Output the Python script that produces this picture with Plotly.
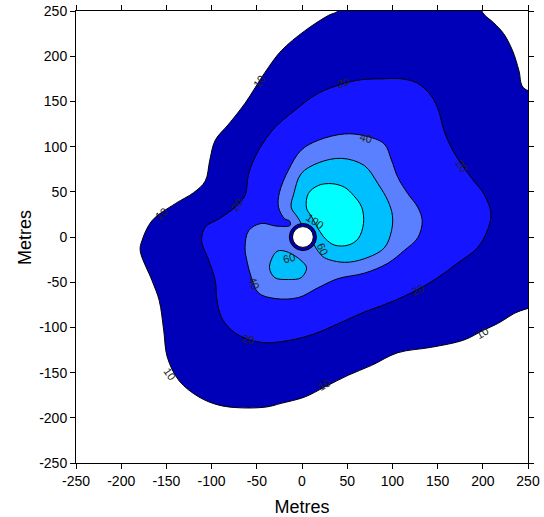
import plotly.graph_objects as go

# ---- contour outlines (metres) ----
c10_x = [40, 29, 3, -23, -41, -63, -81, -96, -102, -107, -120, -140, -166, -177, -179, -166, -158, -153,
         -149, -136, -114, -92, -67, -39, -23, 3, 25, 51, 77, 106, 143, 179, 201, 216, 234, 280, 280,
         245, 240, 233, 223, 212, 200, 190, 60]
c10_y = [250, 245, 228, 206, 182, 148, 125, 107, 85, 62, 49, 37, 18, -4, -15, -48, -70, -103,
         -133, -159, -177, -186, -189, -188, -184, -177, -166, -153, -142, -128, -122, -114, -103, -96, -85, -60, 150,
         165, 184, 206, 225, 237, 248, 275, 275]

c20_x = [88, 110, 128, 143, 151, 157, 165, 176, 190, 201, 209, 205, 194, 172, 150, 132, 110, 88, 69, 40,
         14, -12, -41, -63, -78, -89, -94, -96, -103, -111, -107, -92, -74, -63, -59, -48, -30, -8, 18, 47, 66]
c20_y = [175, 175, 170, 156, 140, 118, 99, 81, 62, 48, 26, 7, -12, -29, -45, -56, -67, -76, -83, -96,
         -107, -114, -117, -112, -103, -89, -70, -48, -26, -4, 11, 20, 33, 46, 70, 96, 121, 140, 159, 170, 174]

c40_x = [69, 91, 99, 106, 117, 128, 133, 128, 113, 95, 69, 40, 18, -4, -30, -48, -56, -61, -63, -59,
         -45, -28, -13, -14, -19, -26, -25, -15, -1, 18, 47]
c40_y = [112, 103, 85, 66, 48, 33, 18, -1, -15, -29, -40, -46, -56, -67, -68, -62, -45, -26, -12, 7,
         15, 12, 13, 18, 20, 33, 49, 74, 96, 107, 114]

c60a_x = [44, 18, -1, -9, -12, -5, 1, 13, 18, 25, 47, 69, 91, 99, 100, 95, 84, 69]
c60a_y = [87, 82, 70, 48, 33, 22, 12, -8, -16, -23, -28, -24, -12, 7, 24, 40, 59, 79]

c60b_x = [-30, -36, -30, -15, -1, 5, -1, -15, -25]
c60b_y = [-18, -34, -45, -47, -45, -34, -26, -17, -15]

c100_x = [7, 5, 11, 18, 26, 36, 51, 62, 68, 66, 57, 47, 33, 18]
c100_y = [48, 32, 22, 9, -2, -9, -9, -2, 15, 33, 46, 55, 59, 57]

levels = ["10", "20", "40", "60", "60", "100"]
fills = ["#0000B8", "#1515FF", "#5B80FF", "#00BFFF", "#00BFFF", "#00FFFF"]
outlines = [(c10_x, c10_y), (c20_x, c20_y), (c40_x, c40_y), (c60a_x, c60a_y), (c60b_x, c60b_y), (c100_x, c100_y)]

# source (masked centre)
source_x, source_y = 1, 0
ring_radius, hole_radius = 15, 11.5

# contour labels
lab_text = ["10", "10", "10", "10", "10", "20", "20", "20", "20", "20", "40", "40", "60", "60", "100"]
lab_x = [-48, -156, -146, 24, 199, 45, -72, -60, 128, 177, 71, -53, -14, 23, 14]
lab_y = [172, 26, -151, -164, -106, 170, 35, -113, -59, 79, 110, -51, -23, -13, 18]
lab_ang = [-55, -40, 55, -30, -30, -15, -55, 10, -25, 55, 15, 70, -15, 65, 35]

# axis ticks
tick_vals = [-250, -200, -150, -100, -50, 0, 50, 100, 150, 200, 250]
tick_labels = ["-250", "-200", "-150", "-100", "-50", "0", "50", "100", "150", "200", "250"]

FONT = "Arial, Liberation Sans, Helvetica, sans-serif"

fig = go.Figure()
for (xs, ys), col, lv in zip(outlines, fills, levels):
    fig.add_trace(go.Scatter(
        x=xs + xs[:1], y=ys + ys[:1], mode="lines", fill="toself", fillcolor=col,
        line=dict(color="black", width=1, shape="spline", smoothing=1.0),
        hoverinfo="skip", showlegend=False, name=lv))

fig.add_shape(type="circle", xref="x", yref="y",
              x0=source_x - ring_radius, x1=source_x + ring_radius,
              y0=source_y - ring_radius, y1=source_y + ring_radius,
              fillcolor="#0000B8", line=dict(color="black", width=1))
fig.add_shape(type="circle", xref="x", yref="y",
              x0=source_x - hole_radius, x1=source_x + hole_radius,
              y0=source_y - hole_radius, y1=source_y + hole_radius,
              fillcolor="white", line=dict(color="black", width=1))

for t, x, y, a in zip(lab_text, lab_x, lab_y, lab_ang):
    fig.add_annotation(x=x, y=y, text=t, textangle=a, showarrow=False,
                       font=dict(family=FONT, size=11, color="#222222"))

axis_common = dict(range=[-250, 250], tickvals=tick_vals, ticktext=tick_labels,
                   ticks="outside", ticklen=5,
                   showline=True, linecolor="black", linewidth=1, mirror="ticks",
                   showgrid=False, zeroline=False, tickcolor="black", automargin=False,
                   tickfont=dict(family=FONT, size=14, color="black"))

fig.update_xaxes(**axis_common, title=dict(text="Metres", font=dict(family=FONT, size=18, color="black"), standoff=14))
fig.update_yaxes(**axis_common)

# y-axis title
fig.add_annotation(xref="paper", yref="paper", x=-0.113, y=0.5, text="Metres", textangle=-90,
                   showarrow=False, xanchor="center", yanchor="middle",
                   font=dict(family=FONT, size=18, color="black"))

fig.update_layout(width=544, height=517, margin=dict(l=76, r=16, t=11, b=54, pad=0),
                  plot_bgcolor="white", paper_bgcolor="white")

fig.write_html("out.html", config={"displayModeBar": False},
               post_script="document.body.style.margin='0';document.body.style.overflow='hidden';")
